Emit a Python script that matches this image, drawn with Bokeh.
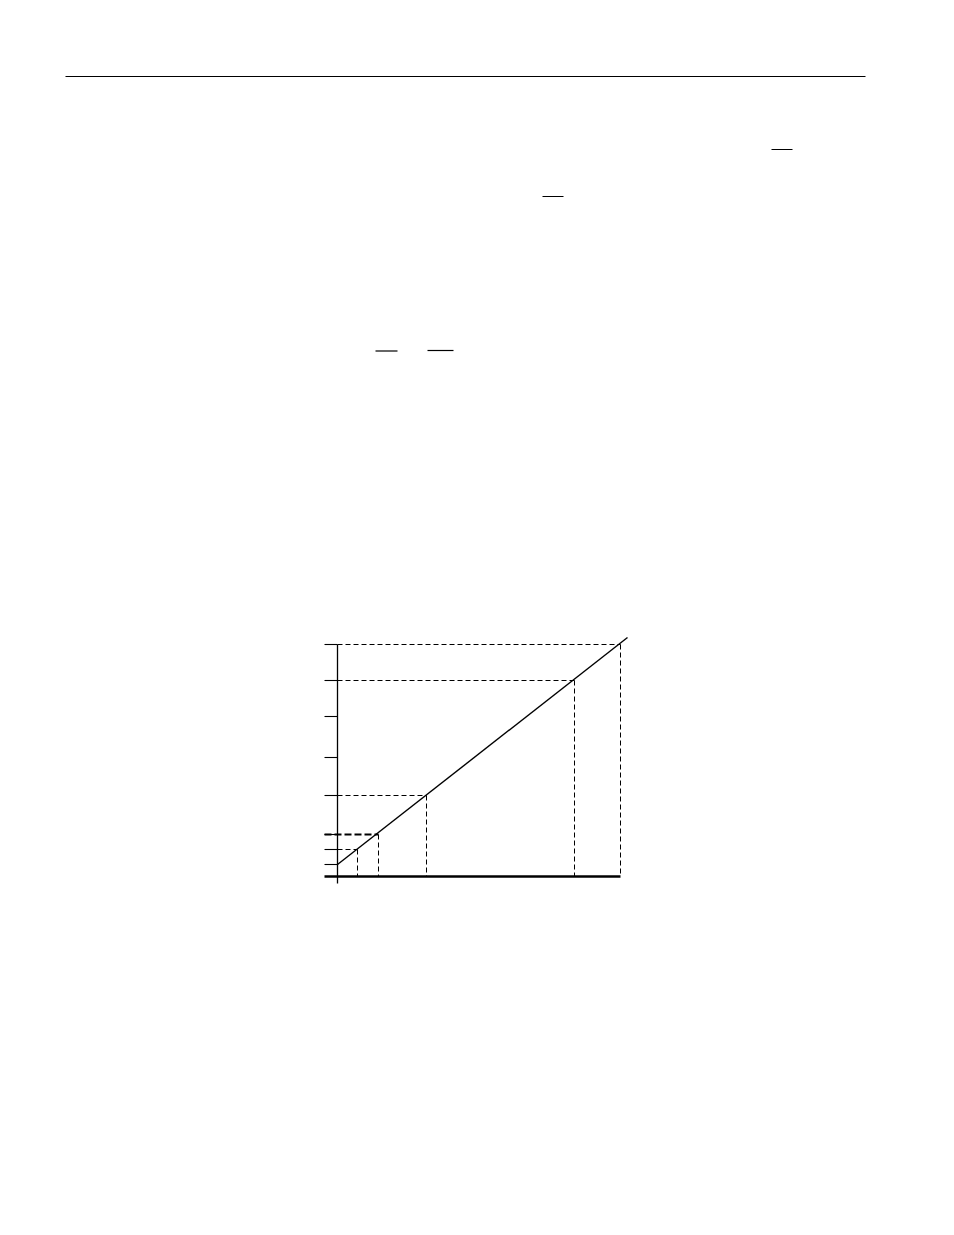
from bokeh.plotting import figure
from bokeh.models import Range1d
from bokeh.embed import file_html
from bokeh.resources import INLINE

# ---- chart data (units above / right of the chart origin) ----
y_ticks = [12, 27, 42, 81, 119, 160, 196, 232]
pt_x = [20, 41, 89, 237, 283]
pt_y = [27, 42, 81, 196, 232]
line_x = [0, 290]
line_y = [12, 239]
x_axis_end = 283
y_axis_low = -7
y_axis_high = 232
tick_len = 13
thick_guide = 42   # the bold dashed guide level

# ---- page ornaments (same coordinate system) ----
rule_x = [-272, 528]
rule_y = 800
bar_x0 = [434, 205, 38, 90]
bar_x1 = [455, 226, 60, 116]
bar_y = [727, 680, 525.5, 526]

W, H = 938, 1219
p = figure(width=W, height=H, x_range=Range1d(-337, 601), y_range=Range1d(-343, 876),
           output_backend="svg", toolbar_location=None, x_axis_type=None, y_axis_type=None,
           min_border=0, min_border_left=0, min_border_right=0, min_border_top=0, min_border_bottom=0)
p.grid.visible = False
p.outline_line_color = None
p.background_fill_color = "white"
p.border_fill_color = "white"

# top page rule
p.segment(x0=[rule_x[0]], y0=[rule_y], x1=[rule_x[1]], y1=[rule_y], line_color="black", line_width=1.2)
# fraction bars
p.segment(x0=bar_x0, y0=bar_y, x1=bar_x1, y1=bar_y, line_color="black", line_width=1.2)

# axes
p.segment(x0=[0], y0=[y_axis_low], x1=[0], y1=[y_axis_high], line_color="black", line_width=1.3)
p.segment(x0=[-tick_len], y0=[0], x1=[x_axis_end], y1=[0], line_color="black", line_width=2.6)
# tick marks
p.segment(x0=[-tick_len] * len(y_ticks), y0=y_ticks, x1=[0] * len(y_ticks), y1=y_ticks,
          line_color="black", line_width=1.1)

# dashed guides
hx0, hy, hx1 = [], [], []
vx, vy0, vy1 = [], [], []
for xv, yv in zip(pt_x, pt_y):
    if yv == thick_guide:
        continue
    hx0.append(0); hy.append(yv); hx1.append(xv)
for xv, yv in zip(pt_x, pt_y):
    vx.append(xv); vy0.append(yv); vy1.append(0)
p.segment(x0=hx0, y0=hy, x1=hx1, y1=hy, line_color="black", line_width=1.0, line_dash="5 3")
p.segment(x0=vx, y0=vy0, x1=vx, y1=vy1, line_color="black", line_width=1.0, line_dash="5 3")
# bold dashed guide
gx = pt_x[pt_y.index(thick_guide)]
p.segment(x0=[-tick_len], y0=[thick_guide], x1=[gx], y1=[thick_guide],
          line_color="black", line_width=2.0, line_dash="7 3")

# main line
p.line(line_x, line_y, line_color="black", line_width=1.4)

open("out.html", "w").write(file_html(p, INLINE))
